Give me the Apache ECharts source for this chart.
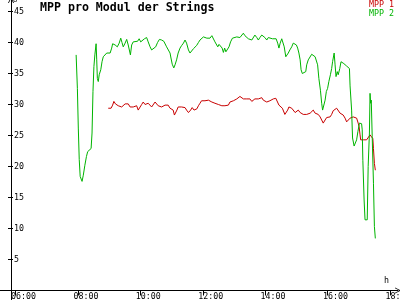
<!DOCTYPE html>
<html>
<head>
<meta charset="utf-8">
<script src="https://cdn.jsdelivr.net/npm/echarts@6/dist/echarts.min.js"></script>
<style>html,body{margin:0;padding:0;background:#fff}#c{width:400px;height:300px}</style>
</head>
<body>
<div id="c"></div>
<script>
var FONT = 'DejaVu Sans Mono';
var titleText = 'MPP pro Modul der Strings';
var seriesNames = ['MPP 1', 'MPP 2'];
var seriesColors = ['#c80000', '#00b400'];
var xTickLabels = ['06:00', '08:00', '10:00', '12:00', '14:00', '16:00', '18:00'];
var xUnit = 'h';
var yUnit = 'U';

// MPP 1 (hours of day, volts)
var t1 = [8.97,9.02,9.06,9.11,9.15,9.20,9.24,9.29,9.35,9.40,
9.45,9.51,9.56,9.61,9.67,9.72,9.77,9.83,9.88,9.93,
9.99,10.04,10.09,10.15,10.20,10.25,10.31,10.36,10.41,10.47,
10.52,10.57,10.63,10.68,10.73,10.79,10.84,10.89,10.95,11.00,
11.05,11.09,11.13,11.17,11.21,11.27,11.32,11.38,11.43,11.48,
11.54,11.57,11.61,11.66,11.72,11.77,11.81,11.86,11.91,11.96,
12.02,12.07,12.13,12.18,12.23,12.29,12.34,12.39,12.45,12.50,
12.55,12.61,12.66,12.71,12.77,12.82,12.87,12.93,12.98,13.03,
13.09,13.14,13.19,13.25,13.30,13.35,13.41,13.46,13.51,13.57,
13.62,13.67,13.73,13.78,13.83,13.89,13.94,13.99,14.05,14.10,
14.15,14.19,14.26,14.34,14.40,14.44,14.50,14.55,14.59,14.63,
14.68,14.72,14.76,14.80,14.85,14.90,14.96,15.01,15.06,15.12,
15.17,15.22,15.28,15.33,15.38,15.44,15.49,15.54,15.60,15.65,
15.70,15.76,15.81,15.86,15.92,15.97,16.02,16.08,16.13,16.18,
16.24,16.29,16.34,16.40,16.45,16.50,16.56,16.61,16.66,16.72,
16.77,16.82,16.88,16.93,16.98,17.01,17.04,17.06,17.09,17.14,
17.20,17.25,17.30,17.36,17.41,17.45,17.47,17.50,17.53];
var v1 = [29.4,29.1,29.4,29.9,30.5,30.1,29.9,29.8,29.9,29.6,
29.9,30.1,30.3,30.1,29.6,29.4,29.6,29.5,29.8,29.1,
29.4,30.0,30.4,30.0,30.0,30.2,30.0,29.6,29.9,30.4,
30.5,29.8,29.9,29.6,29.8,29.9,29.6,29.9,29.4,29.3,
29.1,28.3,28.6,29.1,29.6,29.8,29.6,29.4,29.5,29.1,
28.7,28.4,29.1,29.5,29.1,28.8,29.3,29.8,30.2,30.6,
30.5,30.6,30.9,30.7,30.6,30.4,30.5,30.2,30.0,30.0,
29.8,29.8,30.0,29.8,29.6,29.9,30.4,30.6,30.6,30.9,
30.9,31.1,31.3,31.1,30.9,31.1,30.9,30.7,30.9,30.5,
30.7,30.9,30.6,30.9,30.9,31.1,30.7,30.4,30.4,30.5,
30.6,30.7,30.9,31.0,30.7,29.9,29.6,29.4,29.1,28.4,
28.7,29.1,29.6,29.8,29.4,29.1,28.7,29.0,29.1,28.7,
28.6,28.4,28.2,28.4,28.3,28.6,28.7,29.1,28.6,28.4,
28.4,28.0,27.5,27.0,27.5,27.9,28.2,28.0,28.4,29.0,
28.8,29.4,29.1,28.6,28.7,28.3,27.8,27.2,27.0,27.8,
27.5,28.0,28.3,27.8,27.0,26.4,25.1,24.3,24.0,24.3,
24.3,24.3,24.5,25.1,25.1,24.5,22.9,20.5,19.4];

// MPP 2
var t2 = [7.94,7.97,7.98,8.01,8.04,8.07,8.13,8.17,8.22,8.27,
8.31,8.36,8.42,8.45,8.48,8.51,8.54,8.58,8.60,8.62,
8.65,8.68,8.73,8.77,8.81,8.87,8.92,8.98,9.03,9.08,
9.11,9.19,9.26,9.32,9.37,9.41,9.45,9.51,9.56,9.61,
9.64,9.68,9.72,9.77,9.83,9.91,9.96,10.01,10.06,10.13,
10.20,10.25,10.31,10.36,10.41,10.49,10.55,10.61,10.68,10.75,
10.79,10.84,10.89,10.95,10.98,11.02,11.07,11.11,11.16,11.21,
11.27,11.32,11.38,11.43,11.48,11.54,11.59,11.64,11.70,11.75,
11.80,11.86,11.91,11.96,12.02,12.07,12.13,12.18,12.23,12.29,
12.34,12.39,12.45,12.48,12.52,12.57,12.62,12.66,12.70,12.74,
12.80,12.84,12.89,12.95,13.01,13.09,13.14,13.19,13.25,13.30,
13.35,13.41,13.46,13.51,13.57,13.62,13.67,13.73,13.78,13.83,
13.89,13.94,13.99,14.05,14.10,14.15,14.23,14.29,14.35,14.40,
14.44,14.48,14.53,14.58,14.61,14.66,14.70,14.74,14.79,14.85,
14.90,14.96,15.00,15.04,15.08,15.12,15.15,15.19,15.25,15.30,
15.33,15.38,15.44,15.49,15.54,15.60,15.65,15.68,15.72,15.77,
15.81,15.84,15.88,15.92,15.96,16.00,16.04,16.09,16.13,16.16,
16.21,16.24,16.27,16.31,16.34,16.39,16.43,16.47,16.52,16.56,
16.61,16.66,16.70,16.72,16.77,16.80,16.85,16.89,16.93,16.97,
17.02,17.06,17.09,17.11,17.13,17.17,17.20,17.24,17.27,17.30,
17.34,17.36,17.38,17.40,17.43,17.47,17.50,17.53];
var v2 = [38.0,37.7,32.6,26.2,21.1,18.4,17.6,18.6,20.2,21.6,
22.4,22.7,22.9,25.4,32.1,36.1,38.0,39.8,37.2,34.2,
33.7,34.8,35.6,36.9,37.7,38.0,38.3,38.0,38.3,39.1,
39.8,39.6,39.3,39.9,40.7,40.0,39.3,39.9,40.5,39.6,
39.9,38.0,39.6,40.1,40.0,40.2,40.6,40.1,39.9,40.6,
40.8,40.1,39.3,38.8,38.8,39.3,40.0,40.5,40.4,40.2,
39.9,39.3,39.1,38.3,37.5,36.5,35.9,36.4,37.2,38.3,
39.1,39.5,39.9,40.4,39.9,38.8,38.3,38.5,39.0,39.0,
39.5,40.0,40.4,40.7,40.9,40.7,40.7,40.9,40.7,41.1,
40.8,40.1,39.9,39.3,39.7,39.5,39.1,38.4,39.1,38.5,
38.4,39.3,40.1,40.7,40.9,40.9,41.2,40.8,41.1,41.5,
41.1,40.8,40.6,40.7,40.4,40.7,41.2,40.8,40.4,40.8,
41.2,41.3,40.8,40.4,40.8,40.8,40.6,40.9,40.6,39.9,
39.1,39.9,40.6,40.4,39.3,37.7,37.5,38.3,38.8,39.3,
39.9,40.0,39.6,39.1,38.3,37.2,35.6,35.0,34.9,35.3,
36.4,37.2,37.5,38.1,38.1,37.7,37.7,36.4,34.2,32.3,
30.2,29.1,29.4,30.7,32.1,32.6,33.7,34.8,35.8,36.9,
38.3,36.4,34.5,35.3,34.8,35.8,36.9,37.2,36.6,36.4,
36.2,36.1,35.8,33.0,29.1,24.6,23.3,23.6,24.3,25.6,
27.0,26.9,26.9,25.9,21.0,14.6,11.4,11.1,11.4,20.0,
25.4,31.8,30.2,30.7,24.8,17.3,10.3,8.4];

function zip(t, v) { return t.map(function (x, i) { return [x, v[i]]; }); }

var chevron = 'path://M0,10 L5,0 L10,10 L8.6,10 L5,2.8 L1.4,10 Z';
var mono = { fontFamily: FONT, fontSize: 8.3, color: '#000' };
var gb = { containLabel: false, outerBoundsMode: 'none' };

var chart = echarts.init(document.getElementById('c'), null, { renderer: 'canvas' });
chart.setOption({
  animation: false,
  backgroundColor: '#fff',
  title: [
    { text: titleText, left: 40, top: 2, padding: 0,
      textStyle: { fontFamily: FONT, fontSize: 11.6, fontWeight: 'bold', color: '#000' } },
    { text: yUnit, left: 13, top: -3, padding: 0,
      textStyle: { fontFamily: FONT, fontSize: 7, fontWeight: 'normal', color: '#000' } },
    { text: xUnit, left: 384, top: 277, padding: 0,
      textStyle: { fontFamily: FONT, fontSize: 8.3, fontWeight: 'normal', color: '#000' } }
  ],
  legend: {
    orient: 'vertical', right: 6, top: 1, padding: 0, itemGap: 1,
    itemWidth: 0, itemHeight: 8, icon: 'none', align: 'left',
    textStyle: { fontFamily: FONT, fontSize: 8.3, padding: 0 },
    data: [
      { name: seriesNames[0], textStyle: { color: seriesColors[0] } },
      { name: seriesNames[1], textStyle: { color: seriesColors[1] } }
    ]
  },
  grid: [
    Object.assign({ left: 15.6, right: 10, top: 11.5, bottom: 9.5 }, gb),
    Object.assign({ left: 11, right: 14.6, top: 11.5, bottom: 9.5 }, gb),
    Object.assign({ left: 0, right: 2, top: 11.5, bottom: 9.5 }, gb),
    Object.assign({ left: 11, width: 10, top: 0, bottom: 0 }, gb)
  ],
  xAxis: [
    { type: 'value', gridIndex: 0, min: 6, max: 18, interval: 2,
      axisLine: { show: false }, splitLine: { show: false },
      axisTick: { show: true, length: 5, lineStyle: { color: '#000' } },
      axisLabel: { show: false } },
    { type: 'value', gridIndex: 1, min: 6, max: 18, interval: 2,
      axisLine: { show: false }, splitLine: { show: false }, axisTick: { show: false },
      axisLabel: Object.assign({ show: true, align: 'left', alignMinLabel: 'left', alignMaxLabel: 'left', margin: 2,
        formatter: function (v) { return xTickLabels[Math.round((v - 6) / 2)] || ''; } }, mono) },
    { type: 'value', gridIndex: 2, min: 0, max: 1, show: true,
      axisLine: { show: true, lineStyle: { color: '#000', width: 1 },
        symbol: ['none', chevron], symbolSize: [7, 6], symbolOffset: [0, 0] },
      axisTick: { show: false }, axisLabel: { show: false }, splitLine: { show: false } },
    { type: 'value', gridIndex: 3, min: 0, max: 1, show: false }
  ],
  yAxis: [
    { type: 'value', gridIndex: 0, min: 0, max: 45, interval: 5, offset: 2.6,
      axisLine: { show: false }, splitLine: { show: false },
      axisTick: { show: true, length: 5, lineStyle: { color: '#000' } },
      axisLabel: Object.assign({ show: true, inside: true, margin: 1, showMinLabel: false }, mono) },
    { type: 'value', gridIndex: 1, min: 0, max: 45, show: false },
    { type: 'value', gridIndex: 2, min: 0, max: 1, show: false },
    { type: 'value', gridIndex: 3, min: 0, max: 1, show: true, position: 'left',
      axisLine: { show: true, onZero: false, lineStyle: { color: '#000', width: 1 },
        symbol: ['none', chevron], symbolSize: [7, 6], symbolOffset: [0, 0] },
      axisTick: { show: false }, axisLabel: { show: false }, splitLine: { show: false } }
  ],
  series: [
    { name: seriesNames[0], type: 'line', xAxisIndex: 0, yAxisIndex: 0,
      data: zip(t1, v1), showSymbol: false, symbol: 'none',
      lineStyle: { color: seriesColors[0], width: 1 }, itemStyle: { color: seriesColors[0] } },
    { name: seriesNames[1], type: 'line', xAxisIndex: 0, yAxisIndex: 0,
      data: zip(t2, v2), showSymbol: false, symbol: 'none',
      lineStyle: { color: seriesColors[1], width: 1 }, itemStyle: { color: seriesColors[1] } }
  ]
});
</script>
</body>
</html>
